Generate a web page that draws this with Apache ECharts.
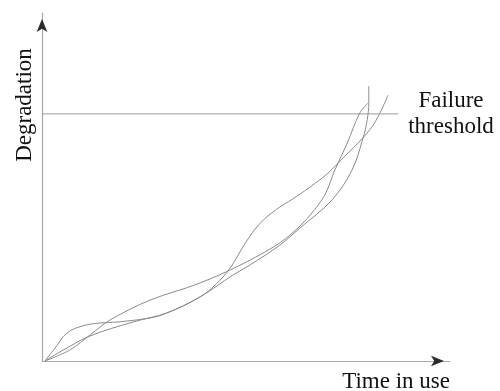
<!DOCTYPE html>
<html>
<head>
<meta charset="utf-8">
<style>html,body{margin:0;padding:0;background:#fff;}#c{width:500px;height:391px;}</style>
<script src="https://cdn.jsdelivr.net/npm/echarts@6/dist/echarts.min.js"></script>
</head>
<body>
<div id="c"></div>
<script>
// Degradation paths (time in use, degradation)
const pathA = [[0.7,0],[3.2,3.7],[6.1,8.0],[10.0,10.1],[14.2,10.9],[18.4,11.2],[26.5,12.4],[30.6,13.8],[38.7,18.4],[42.4,21.8],[46.1,26.7],[50.0,34.2],[53.5,39.6],[57.5,43.6],[61.5,46.6],[65.7,50.0],[69.9,53.8],[74.0,58.6],[78.7,64.2],[81.8,69.0],[84.8,76.4]];
const pathB = [[0.7,0],[6.9,3.2],[11.8,7.5],[16.7,11.8],[26.5,17.5],[38.7,22.4],[51.0,29.0],[60.8,36.2],[68.6,46.3],[71.8,54.9],[74.8,62.6],[77.9,71.3],[79.9,74.1]];
const pathC = [[0.7,0],[4.4,2.6],[11.8,7.2],[22.3,11.2],[30.6,13.8],[38.7,18.4],[46.8,24.7],[51.0,27.6],[58.3,33.3],[63.2,38.2],[71.1,46.3],[76.0,54.9],[78.7,64.1],[79.7,69.3],[80.1,74.1],[80.1,79.0]];
const thresholdValue = 71.0;
const thresholdEnd = 87.3;
const xTitle = 'Time in use';
const yTitle = 'Degradation';
const thresholdLabel = ['Failure', 'threshold'];

const chart = echarts.init(document.getElementById('c'));
const font = "'Liberation Serif','Times New Roman',serif";
const curveStyle = {color:'#8a8a8a', width:1};
const baseAxis = (pos) => ({
  type:'value', min:0, max:100, position:pos,
  axisLine:{show:true, lineStyle:{color:'#a8a8a8', width:1.2}},
  axisTick:{show:false}, axisLabel:{show:false}, splitLine:{show:false}
});
const arrowAxis = (pos) => ({
  type:'value', min:0, max:100, position:pos,
  axisLine:{show:true, symbol:['none','arrow'], symbolSize:[8,13], symbolOffset:[0,-6],
    lineStyle:{color:'#2a2a2a', width:0}},
  axisTick:{show:false}, axisLabel:{show:false}, splitLine:{show:false}
});
chart.setOption({
  animation:false,
  grid:{left:42, right:50, top:13, bottom:30},
  xAxis:[baseAxis('bottom'), arrowAxis('bottom')],
  yAxis:[baseAxis('left'), arrowAxis('left')],
  series:[
    {type:'line', data:pathA, smooth:0.4, showSymbol:false, lineStyle:curveStyle, silent:true},
    {type:'line', data:pathB, smooth:0.35, showSymbol:false, lineStyle:curveStyle, silent:true},
    {type:'line', data:pathC, smooth:0.35, showSymbol:false, lineStyle:curveStyle, silent:true},
    {type:'line', data:[[0,thresholdValue],[thresholdEnd,thresholdValue]], showSymbol:false,
      lineStyle:{color:'#9a9a9a', width:1}, silent:true}
  ],
  graphic:[
    {type:'text', x:25, y:105, rotation:Math.PI/2,
      style:{text:yTitle, font:'23px '+font, fill:'#111', align:'center', verticalAlign:'middle'}},
    {type:'text', x:450, y:382,
      style:{text:xTitle, font:'23px '+font, fill:'#111', align:'right', verticalAlign:'middle'}},
    {type:'text', x:451, y:101,
      style:{text:thresholdLabel[0], font:'23px '+font, fill:'#111', align:'center', verticalAlign:'middle'}},
    {type:'text', x:451, y:127,
      style:{text:thresholdLabel[1], font:'23px '+font, fill:'#111', align:'center', verticalAlign:'middle'}}
  ]
});
</script>
</body>
</html>
